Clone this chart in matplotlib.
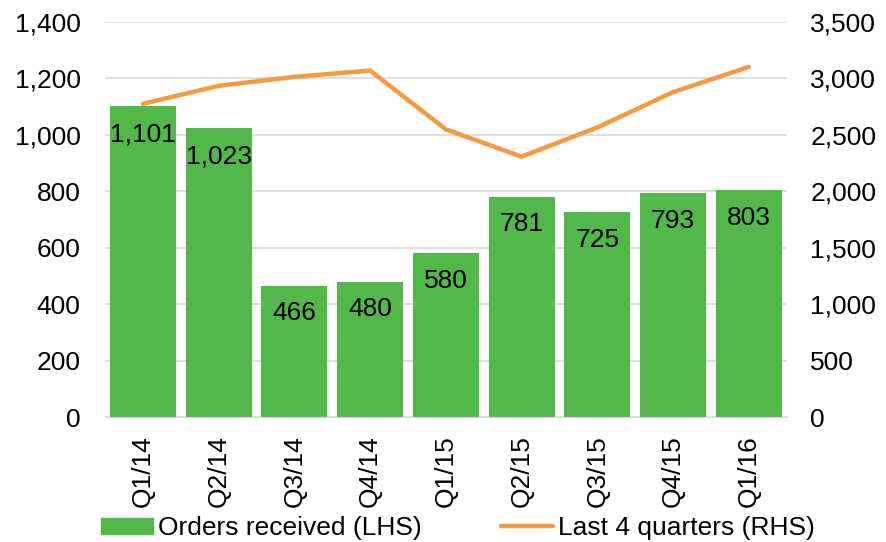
import matplotlib.pyplot as plt
from matplotlib.patches import Patch
from matplotlib.lines import Line2D
from matplotlib.ticker import FuncFormatter

plt.rcParams['font.family'] = ['Liberation Sans', 'DejaVu Sans']

quarters = ["Q1/14", "Q2/14", "Q3/14", "Q4/14", "Q1/15", "Q2/15", "Q3/15", "Q4/15", "Q1/16"]
orders = [1101, 1023, 466, 480, 580, 781, 725, 793, 803]
last4 = [2775, 2934, 3014, 3070, 2549, 2307, 2566, 2879, 3102]

green = '#52B84A'
orange = '#F79A3F'
fs = 19

fig = plt.figure(figsize=(8.86, 5.42), dpi=100)
ax = fig.add_axes([0.1185, 0.2306, 0.7695, 0.7288])
ax2 = ax.twinx()

x = range(len(quarters))
bars = ax.bar(x, orders, width=0.87, color=green, zorder=2)
for xi, v in zip(x, orders):
    ax.annotate(f"{v:,}", (xi, v), xytext=(0, -20), textcoords='offset points',
                ha='center', va='center', fontsize=fs, color='black', zorder=3)

ax2.plot(x, last4, color=orange, lw=3.2, solid_capstyle='round', zorder=4)

ax.set_ylim(0, 1400)
ax.set_yticks(range(0, 1401, 200))
ax2.set_ylim(0, 3500)
ax2.set_yticks(range(0, 3501, 500))
ax.set_xlim(-0.5, len(quarters) - 0.5)

fmt = FuncFormatter(lambda v, p: f"{int(v):,}")
ax.yaxis.set_major_formatter(fmt)
ax2.yaxis.set_major_formatter(fmt)

ax.grid(axis='y', color='#D9D9D9', lw=1.2, zorder=0)
ax.set_axisbelow(True)
ax.set_xticks(list(x))
ax.set_xticklabels(quarters, rotation=90, fontsize=fs)
ax.tick_params(axis='x', length=0, pad=13)
ax.tick_params(axis='y', length=0, labelsize=fs, pad=17.5)
ax2.tick_params(axis='y', length=0, labelsize=fs, pad=17)

for a in (ax, ax2):
    for s in ['top', 'right', 'left']:
        a.spines[s].set_visible(False)
    a.spines['bottom'].set_color('#D9D9D9')
ax2.spines['bottom'].set_visible(False)

ax.set_zorder(ax2.get_zorder() - 1)
ax.patch.set_visible(False)

handles = [Patch(color=green, label='Orders received (LHS)'),
           Line2D([0], [0], color=orange, lw=3.2, solid_capstyle='round', label='Last 4 quarters (RHS)')]
fig.legend(handles=handles, loc='center', bbox_to_anchor=(0.517, 0.026), ncol=2, frameon=False,
           fontsize=fs, handlelength=1.97, handleheight=0.55, handletextpad=0.2, columnspacing=3.0,
           borderpad=0, borderaxespad=0)

fig.savefig('out.png', dpi=100)
